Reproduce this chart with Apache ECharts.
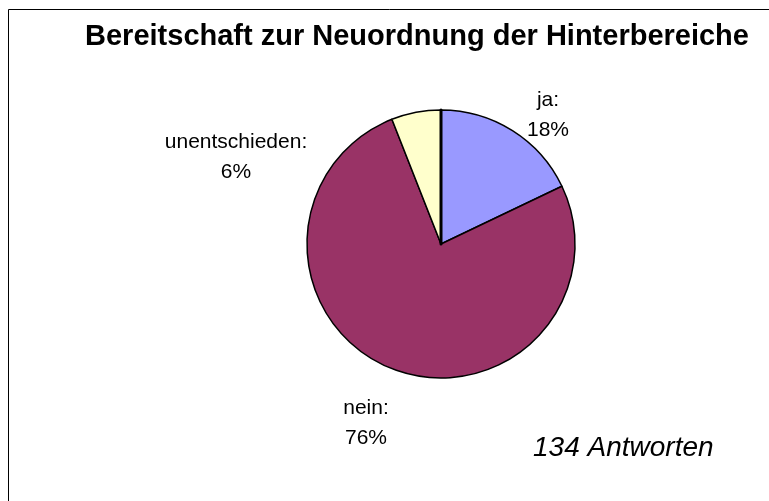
<!DOCTYPE html>
<html>
<head>
<meta charset="utf-8">
<script src="https://cdn.jsdelivr.net/npm/echarts@6/dist/echarts.min.js"></script>
<style>
  html, body { margin: 0; padding: 0; background: #fff; }
  #chart { width: 769px; height: 501px; }
</style>
</head>
<body>
<div id="chart"></div>
<script>
const categories = ['ja', 'nein', 'unentschieden', 'keine Angabe']
const counts = [24, 102, 8, 0]
const percents = [18, 76, 6, 0]
const colors = ['#9999FF', '#993366', '#FFFFCC', '#000000']
const titleText = 'Bereitschaft zur Neuordnung der Hinterbereiche'
const noteText = '134 Antworten'

// label centres
const labelPos = [[548, 115], [366, 423], [236, 157], [0, 0]]

const chart = echarts.init(document.getElementById('chart'), null, { renderer: 'canvas' })

const data = categories.map((name, i) => ({
  name: name,
  value: counts[i],
  pct: percents[i],
  itemStyle: counts[i] > 0 ? { color: colors[i] } : { color: colors[i], borderWidth: 3 },
  label: { show: counts[i] > 0 },
  labelLine: { show: false }
}))

const option = {
  animation: false,
  backgroundColor: '#fff',
  title: {
    text: titleText,
    left: 412,
    top: 17,
    textAlign: 'center',
    textStyle: {
      fontFamily: 'Liberation Sans, Arial, sans-serif',
      fontSize: 29,
      fontWeight: 'bold',
      color: '#000'
    }
  },
  graphic: [
    {
      type: 'rect',
      shape: { x: 8.5, y: 9.5, width: 800, height: 600 },
      style: { fill: 'none', stroke: '#000', lineWidth: 1 },
      silent: true
    },
    {
      type: 'text',
      left: 533,
      top: 434,
      style: {
        text: noteText,
        font: 'italic 28px "Liberation Sans", Arial, sans-serif',
        fill: '#000'
      }
    }
  ],
  series: [
    {
      type: 'pie',
      center: [441, 244],
      radius: [0, 134],
      startAngle: 90,
      clockwise: true,
      minAngle: 0,
      avoidLabelOverlap: false,
      itemStyle: { borderColor: '#000', borderWidth: 1.5 },
      emphasis: { disabled: true },
      label: {
        show: true,
        formatter: p => p.name + ':\n' + p.data.pct + '%',
        fontFamily: 'Liberation Sans, Arial, sans-serif',
        fontSize: 21,
        lineHeight: 30,
        color: '#000',
        align: 'center'
      },
      labelLine: { show: false },
      labelLayout: params => {
        const pos = labelPos[params.dataIndex]
        return { x: pos[0], y: pos[1], align: 'center', verticalAlign: 'middle' }
      },
      data: data
    }
  ]
}

chart.setOption(option)
</script>
</body>
</html>
